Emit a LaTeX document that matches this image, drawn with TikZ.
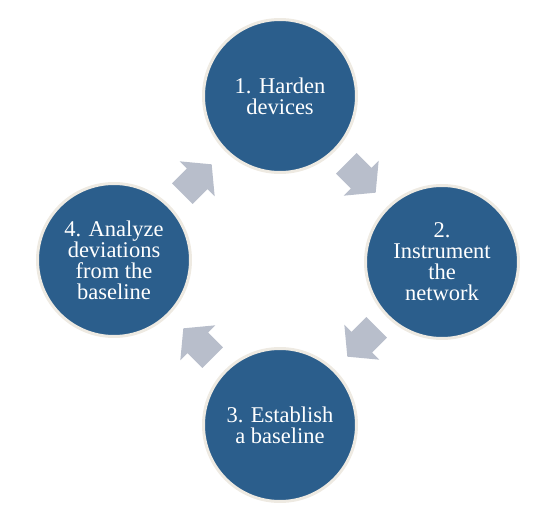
\documentclass[tikz,border=0pt]{standalone}
\usepackage{fontspec}
\setmainfont{Liberation Serif}
\definecolor{stepblue}{RGB}{43,94,140}
\definecolor{ringbeige}{RGB}{238,234,226}
\definecolor{arrowgrey}{RGB}{184,190,203}
\tikzset{
  stepcircle/.style={circle, fill=stepblue, draw=ringbeige, line width=3pt,
    minimum size=153pt, inner sep=0pt, text=white, align=center,
    font=\fontsize{22.5}{21}\selectfont},
  blockarrow/.pic={
    \fill[arrowgrey] (-20.75,-14.5) -- (0.25,-14.5) -- (0.25,-24.75) -- (20.75,0)
      -- (0.25,24.75) -- (0.25,14.5) -- (-20.75,14.5) -- cycle;
  }
}
\begin{document}
\begin{tikzpicture}[x=1pt,y=-1pt]
\useasboundingbox (0,0) rectangle (550,519);
\node[stepcircle] (s1) at (280,96) {1. Harden\\devices};
\node[stepcircle] (s2) at (442,262) {2.\\Instrument\\the\\network};
\node[stepcircle] (s3) at (280,425) {3. Establish\\a baseline};
\node[stepcircle] (s4) at (114,260) {4. Analyze\\deviations\\from the\\baseline};
\pic[rotate=-45] at (361,178) {blockarrow};
\pic[rotate=-135] at (362,342) {blockarrow};
\pic[rotate=135] at (198,343) {blockarrow};
\pic[rotate=45] at (197,179) {blockarrow};
\end{tikzpicture}
\end{document}
